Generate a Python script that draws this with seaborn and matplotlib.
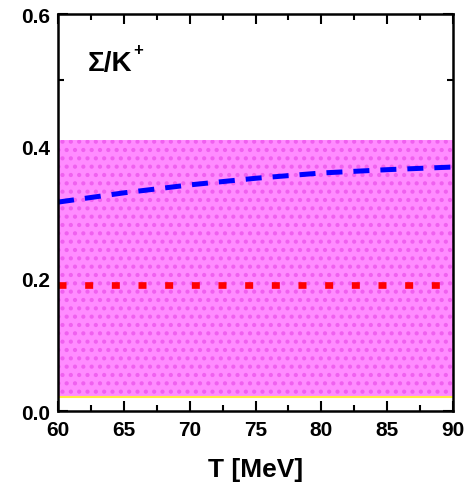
import matplotlib
matplotlib.use("Agg")
import matplotlib.pyplot as plt
import seaborn as sns
from matplotlib.ticker import MultipleLocator

# data
temps = [60, 65, 70, 75, 80, 85, 90]
ratio_dashed = [0.316, 0.330, 0.342, 0.352, 0.360, 0.365, 0.369]
ratio_dotted = [0.19, 0.19, 0.19, 0.19, 0.19, 0.19, 0.19]
band_low = [0.021, 0.021, 0.021, 0.021, 0.021, 0.021, 0.021]
band_high = [0.41, 0.41, 0.41, 0.41, 0.41, 0.41, 0.41]

sns.set_style("ticks")
plt.rcParams['font.family'] = ['Liberation Sans', 'DejaVu Sans']
plt.rcParams['hatch.linewidth'] = 1.8
plt.rcParams['text.color'] = 'black'
plt.rcParams['axes.labelcolor'] = 'black'
plt.rcParams['xtick.color'] = 'black'
plt.rcParams['ytick.color'] = 'black'
plt.rcParams['axes.edgecolor'] = 'black'

fig = plt.figure(figsize=(4.65, 4.89), dpi=100)
ax = fig.add_axes([0.125, 0.157, 0.849, 0.812])

# shaded band with dotted texture
ax.fill_between(temps, band_low, band_high, facecolor='#ff8cff',
                edgecolor='#f060f0', hatch='..', linewidth=0)
ax.plot(temps, band_low, color='#ffee44', lw=1.5)

sns.lineplot(x=temps, y=ratio_dashed, ax=ax, color='#0000ff', lw=3.6,
             linestyle=(0, (3.2, 2.2)))
sns.lineplot(x=temps, y=ratio_dotted, ax=ax, color='#ff0000', lw=4.8,
             linestyle=(0, (1.2, 2.8)), dash_capstyle='butt')

ax.set_xlim(60, 90)
ax.set_ylim(0.0, 0.6)
ax.xaxis.set_major_locator(MultipleLocator(5))
ax.xaxis.set_minor_locator(MultipleLocator(2.5))
ax.yaxis.set_major_locator(MultipleLocator(0.2))
ax.yaxis.set_minor_locator(MultipleLocator(0.1))
ax.yaxis.set_major_formatter(plt.FormatStrFormatter('%.1f'))

ax.tick_params(which='both', direction='in', top=True, right=True,
               width=1.5, labelsize=15, pad=6)
ax.tick_params(which='major', length=7)
ax.tick_params(which='minor', length=4)
for lbl in ax.get_xticklabels() + ax.get_yticklabels():
    lbl.set_fontweight('bold')
for sp in ax.spines.values():
    sp.set_linewidth(1.8)

ax.set_xlabel('T [MeV]', fontsize=19, fontweight='bold', labelpad=13)
ax.text(0.075, 0.86, 'Σ/K', transform=ax.transAxes,
        fontsize=20, fontweight='bold')
ax.text(0.19, 0.90, '+', transform=ax.transAxes,
        fontsize=12, fontweight='bold')

fig.savefig('out.png', dpi=100)
